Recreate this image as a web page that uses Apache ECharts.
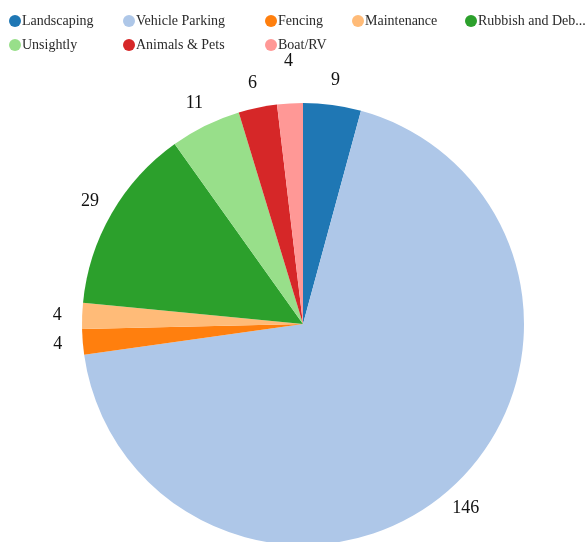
<!DOCTYPE html>
<html>
<head>
<meta charset="utf-8">
<script src="https://cdn.jsdelivr.net/npm/echarts@6/dist/echarts.min.js"></script>
<style>
html,body{margin:0;padding:0;background:#fff;}
#chart{width:587px;height:542px;}
</style>
</head>
<body>
<div id="chart"></div>
<script>
const categories = ['Landscaping', 'Vehicle Parking', 'Fencing', 'Maintenance', 'Rubbish and Debris', 'Unsightly', 'Animals & Pets', 'Boat/RV'];
const values = [9, 146, 4, 4, 29, 11, 6, 4];
const colors = ['#1f77b4', '#aec7e8', '#ff7f0e', '#ffbb78', '#2ca02c', '#98df8a', '#d62728', '#ff9896'];

const FONT = "'Liberation Serif', 'Times New Roman', serif";
const legendPos = [
  [9, 14], [123, 14], [265, 14], [352, 14], [465, 14],
  [9, 38], [123, 38], [265, 38]
];

const data = categories.map((c, i) => ({ name: c, value: values[i], itemStyle: { color: colors[i] } }));

function truncName(n) {
  return n.length > 15 ? n.slice(0, 15) + '...' : n;
}

const legends = categories.map((c, i) => ({
  data: [c],
  left: legendPos[i][0],
  top: legendPos[i][1],
  padding: 0,
  icon: 'circle',
  itemWidth: 12,
  itemHeight: 12,
  formatter: truncName,
  textStyle: { fontFamily: FONT, fontSize: 14, color: '#2a2a2a', padding: [0, 0, 0, -4] }
}));

const chart = echarts.init(document.getElementById('chart'), null, { renderer: 'canvas' });
chart.setOption({
  backgroundColor: '#fff',
  animation: false,
  legend: legends,
  series: [
    {
      type: 'pie',
      center: [303, 324],
      radius: [0, 221],
      startAngle: 90,
      clockwise: true,
      data: data,
      label: { show: false },
      labelLine: { show: false },
      emphasis: { disabled: true }
    },
    {
      type: 'pie',
      center: [303, 324],
      radius: [221, 265],
      startAngle: 90,
      clockwise: true,
      silent: true,
      data: data.map(d => ({ name: d.name, value: d.value })),
      itemStyle: { color: 'rgba(0,0,0,0)' },
      label: {
        show: true,
        position: 'inside',
        formatter: '{c}',
        fontFamily: FONT,
        fontSize: 18,
        color: '#111'
      },
      labelLine: { show: false },
      labelLayout: function (p) {
        if (p.dataIndex === 7) return { dy: -17 };
        return {};
      },
      emphasis: { disabled: true }
    }
  ]
});
</script>
</body>
</html>
